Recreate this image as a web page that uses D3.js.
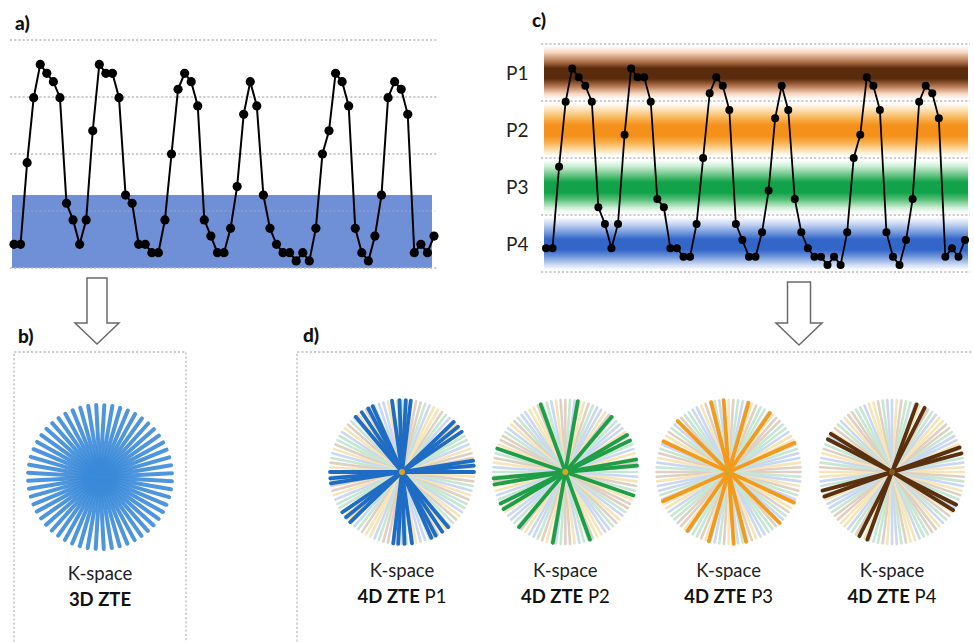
<!DOCTYPE html>
<html>
<head>
<meta charset="utf-8">
<script src="https://cdn.jsdelivr.net/npm/d3@7"></script>
<style>
  html, body { margin: 0; padding: 0; background: #fff; }
  svg { display: block; font-family: Lato, "Open Sans", sans-serif; }
</style>
</head>
<body>
<svg id="chart" width="974" height="642"></svg>
<script>
// ---------- DATA ----------
const signal = [10.4, 10.4, 46.2, 74.7, 89.3, 85.4, 81.7, 74.7, 28.4, 21.1, 10.4, 21.1, 60.2,
  89.3, 85.4, 85.4, 74.7, 32, 28.4, 10.4, 10.4, 6.7, 6.7, 21.1, 50, 78.4, 85.4, 81.7, 71.1,
  21.1, 14, 6.7, 6.7, 17.4, 35.7, 67.4, 81.7, 71.1, 32, 17.4, 10.4, 6.7, 6.7, 3.1, 6.7, 3.1,
  17.4, 50, 60.2, 85.4, 81.7, 71.1, 17.4, 6.7, 3.1, 14, 32, 74.7, 81.7, 78.4, 67.4, 6.7,
  10.4, 6.7, 14];
const gridValues = [0, 25, 50, 75, 100];
const acceptWindow = [0, 32];               // panel a shaded band (value range)
const phaseNames = ["P1", "P2", "P3", "P4"];
const phaseLo = [75, 50, 25, 0];
const phaseHi = [100, 75, 50, 25];
const phaseDark = ["#5a2b0c", "#f5901a", "#12a34a", "#3266c9"];
const phaseMid  = ["#b0714a", "#f9b04e", "#5cc07a", "#7297dc"];
const phasePale = ["#f8d6c0", "#fde3b8", "#cdeed6", "#cddbf4"];

const panelTitles = ["K-space", "K-space", "K-space", "K-space"];
const dPhaseLabels = ["P1", "P2", "P3", "P4"];
const highlightColors = ["#1f6cc4", "#1f9e48", "#f39a1c", "#5a300f"];
const highlightAngles = [
  [0, 5, 9, 34, 39, 44, 83, 87, 92, 98, 114, 118, 124, 130],
  [5, 10, 26, 31, 50, 80, 110, 161],
  [24, 55, 74, 94, 104, 135, 155],
  [15, 20, 63, 70, 148, 153]
];
const paleSpokeColors = ["#cbd8f1", "#c6e7d2", "#dfd0c3", "#f5e5b8"];
const palePattern = [0,0,1,2,2,3,0,1,1,2,3,3,0,0,1,2,3,3,0,1,2,2,3,0,
                     1,1,2,3,0,0,1,2,2,3,3,0,1,2,3,0,1,1,2,3,0,1,2,3];
const nBgSpokes = 48;
const nStarSpokes = 28;

// ---------- SETUP ----------
const svg = d3.select("#chart");
const defs = svg.append("defs");
const gridStyle = sel => sel.attr("stroke", "#bdbdbd").attr("stroke-width", 1.3)
  .attr("stroke-dasharray", "2.2,2").attr("fill", "none");
const FS = 18.5;

function panelLabel(x, y, t) {
  svg.append("text").attr("x", x).attr("y", y).text(t)
    .attr("font-weight", "900").attr("font-size", 19).attr("fill", "#111");
}

// ---------- PANEL A ----------
const xa = d3.scaleLinear().domain([0, signal.length - 1]).range([14, 434]);
const ya = d3.scaleLinear().domain([0, 100]).range([268, 40]);
const ga = svg.append("g");
ga.append("rect")
  .attr("x", 12).attr("width", 420)
  .attr("y", ya(acceptWindow[1])).attr("height", ya(acceptWindow[0]) - ya(acceptWindow[1]))
  .attr("fill", "#6f8fd6");
ga.selectAll("line.grid").data(gridValues).join("line")
  .attr("x1", 10).attr("x2", 438).attr("y1", d => ya(d)).attr("y2", d => ya(d))
  .call(gridStyle).attr("opacity", d => d > acceptWindow[0] && d < acceptWindow[1] ? 0.35 : 1);
ga.append("path").datum(signal)
  .attr("d", d3.line().x((d, i) => xa(i)).y(d => ya(d)))
  .attr("fill", "none").attr("stroke", "#000").attr("stroke-width", 2);
ga.selectAll("circle").data(signal).join("circle")
  .attr("cx", (d, i) => xa(i)).attr("cy", d => ya(d)).attr("r", 4.6).attr("fill", "#000");
panelLabel(15, 30, "a)");

// ---------- PANEL C ----------
const xc = d3.scaleLinear().domain([0, signal.length - 1]).range([546, 965]);
const yc = d3.scaleLinear().domain([0, 100]).range([272, 44]);
const gc = svg.append("g");
phaseNames.forEach((p, i) => {
  const gid = "band" + i;
  const lg = defs.append("linearGradient").attr("id", gid)
    .attr("x1", 0).attr("x2", 0).attr("y1", 0).attr("y2", 1);
  [[0, "#ffffff"], [0.12, phasePale[i]], [0.3, phaseMid[i]], [0.42, phaseDark[i]],
   [0.62, phaseDark[i]], [0.75, phaseMid[i]], [0.9, phasePale[i]], [1, "#ffffff"]]
    .forEach(s => lg.append("stop").attr("offset", s[0]).attr("stop-color", s[1]));
  gc.append("rect").attr("x", 544).attr("width", 424)
    .attr("y", yc(phaseHi[i]) + 2).attr("height", yc(phaseLo[i]) - yc(phaseHi[i]) - 4)
    .attr("fill", `url(#${gid})`);
  gc.append("text").attr("x", 506).attr("y", (yc(phaseHi[i]) + yc(phaseLo[i])) / 2 + 7)
    .text(p).attr("font-size", 19).attr("fill", "#222");
});
gc.selectAll("line.grid").data(gridValues).join("line")
  .attr("x1", 541).attr("x2", 970).attr("y1", d => yc(d)).attr("y2", d => yc(d))
  .call(gridStyle);
gc.append("path").datum(signal)
  .attr("d", d3.line().x((d, i) => xc(i)).y(d => yc(d)))
  .attr("fill", "none").attr("stroke", "#000").attr("stroke-width", 1.8);
gc.selectAll("circle").data(signal).join("circle")
  .attr("cx", (d, i) => xc(i)).attr("cy", d => yc(d)).attr("r", 4).attr("fill", "#000");
panelLabel(532, 27, "c)");

// ---------- ARROWS ----------
function arrow(cx, top, neck, tip, halfShaft, halfHead) {
  const pts = [[cx - halfShaft, top], [cx + halfShaft, top], [cx + halfShaft, neck],
    [cx + halfHead, neck], [cx, tip], [cx - halfHead, neck], [cx - halfShaft, neck]];
  svg.append("path").attr("d", d3.line()(pts) + "Z")
    .attr("fill", "#fff").attr("stroke", "#6a6a6a").attr("stroke-width", 1.5)
    .attr("stroke-linejoin", "miter");
}
arrow(97, 278, 323, 344, 10, 22);
arrow(799, 282, 323, 345, 11.5, 23);

// ---------- PANEL B ----------
svg.append("path").attr("d", "M14,650 V352 H186 V650").call(gridStyle);
panelLabel(18, 343, "b)");
const gb = svg.append("g").attr("transform", "translate(100,477)");
const starAng = d3.range(nStarSpokes).map(i => i * 180 / nStarSpokes + 3);
gb.selectAll("line").data(starAng).join("line")
  .attr("x1", d => -72 * Math.cos(d * Math.PI / 180)).attr("y1", d => 72 * Math.sin(d * Math.PI / 180))
  .attr("x2", d => 72 * Math.cos(d * Math.PI / 180)).attr("y2", d => -72 * Math.sin(d * Math.PI / 180))
  .attr("stroke", "#3a8ad8").attr("stroke-width", 4).attr("stroke-linecap", "round")
  .attr("stroke-opacity", 0.9);
svg.append("text").attr("x", 100).attr("y", 580).attr("text-anchor", "middle")
  .attr("font-size", FS).attr("fill", "#222").text("K-space");
svg.append("text").attr("x", 100).attr("y", 606).attr("text-anchor", "middle")
  .attr("font-size", FS).attr("font-weight", "bold").attr("fill", "#111").text("3D ZTE");

// ---------- PANEL D ----------
svg.append("path").attr("d", "M297,650 V352 H972").call(gridStyle);
panelLabel(303, 342, "d)");
const xd = d3.scalePoint().domain(dPhaseLabels).range([402, 892]);
const R = 72;
const bgAng = d3.range(nBgSpokes).map(i => ({ a: i * 180 / nBgSpokes, c: palePattern[i] }));
dPhaseLabels.forEach((p, k) => {
  const g = svg.append("g").attr("transform", `translate(${xd(p)},472)`);
  g.selectAll("line.bg").data(bgAng).join("line").attr("class", "bg")
    .attr("x1", d => -R * Math.cos(d.a * Math.PI / 180)).attr("y1", d => R * Math.sin(d.a * Math.PI / 180))
    .attr("x2", d => R * Math.cos(d.a * Math.PI / 180)).attr("y2", d => -R * Math.sin(d.a * Math.PI / 180))
    .attr("stroke", d => paleSpokeColors[(d.c + k) % 4]).attr("stroke-width", 2.6)
    .attr("stroke-linecap", "round");
  g.selectAll("line.hl").data(highlightAngles[k]).join("line").attr("class", "hl")
    .attr("x1", d => -R * Math.cos(d * Math.PI / 180)).attr("y1", d => R * Math.sin(d * Math.PI / 180))
    .attr("x2", d => R * Math.cos(d * Math.PI / 180)).attr("y2", d => -R * Math.sin(d * Math.PI / 180))
    .attr("stroke", highlightColors[k]).attr("stroke-width", 3.8).attr("stroke-linecap", "round");
  g.append("circle").attr("r", 3).attr("fill", k === 3 ? "#7a5a20" : "#d9a41e");
  svg.append("text").attr("x", xd(p)).attr("y", 577).attr("text-anchor", "middle")
    .attr("font-size", FS).attr("fill", "#222").text(panelTitles[k]);
  const t = svg.append("text").attr("x", xd(p)).attr("y", 603).attr("text-anchor", "middle")
    .attr("font-size", FS).attr("fill", "#111");
  t.append("tspan").attr("font-weight", "bold").text("4D ZTE");
  t.append("tspan").text(" " + p);
});
</script>
</body>
</html>
